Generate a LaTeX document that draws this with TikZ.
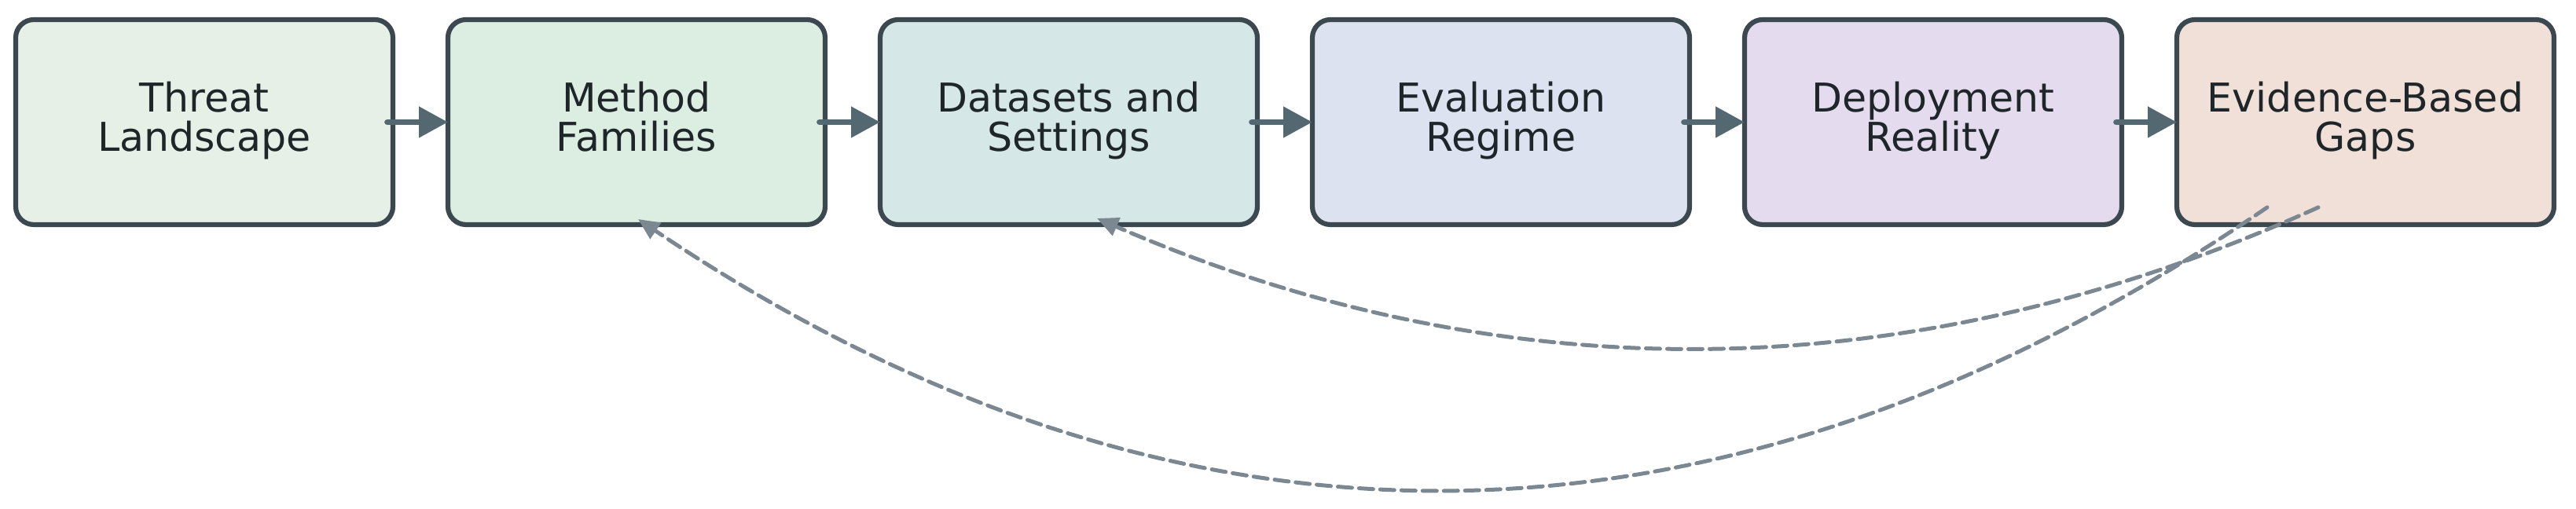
\documentclass[tikz,border=0pt]{standalone}
\usepackage{fontspec}
\setsansfont{DejaVu Sans}
\usetikzlibrary{arrows.meta,positioning}

\definecolor{edgegray}{RGB}{60,72,80}
\definecolor{inkgray}{RGB}{31,38,42}
\definecolor{flowgray}{RGB}{84,104,114}
\definecolor{backgray}{RGB}{123,136,145}
\definecolor{fillthr}{RGB}{230,240,231}
\definecolor{fillmth}{RGB}{220,237,225}
\definecolor{filldat}{RGB}{213,231,231}
\definecolor{fillevl}{RGB}{221,226,240}
\definecolor{filldep}{RGB}{228,220,238}
\definecolor{fillgap}{RGB}{240,224,216}

\begin{document}
\begin{tikzpicture}[
  block/.style={rectangle, draw=edgegray, line width=0.62mm, rounded corners=2.3mm,
    minimum width=4.8cm, minimum height=2.61cm, outer sep=0pt, align=center,
    text=inkgray, font=\sffamily\fontsize{14.4}{14.2}\selectfont,
    execute at end node=\strut},
  flow/.style={-{Triangle[length=3.7mm, width=3.8mm]}, line width=0.77mm, flowgray, line cap=round},
  back/.style={-{Triangle[length=2.7mm, width=2.4mm]}, line width=0.5mm, backgray,
    line cap=round, dash pattern=on 1.8mm off 0.9mm},
  node distance=0.7cm,
]
\useasboundingbox (0,0) rectangle (32.78,-6.48);

% Pipeline
\node[block, fill=fillthr] (thr) at (2.60,-1.555) {Threat\\Landscape};
\node[block, fill=fillmth, right=of thr] (mth) {Method\\Families};
\node[block, fill=filldat, right=of mth] (dat) {Datasets and\\Settings};
\node[block, fill=fillevl, right=of dat] (evl) {Evaluation\\Regime};
\node[block, fill=filldep, right=of evl] (dep) {Deployment\\Reality};
\node[block, fill=fillgap, right=of dep] (gap) {Evidence-Based\\Gaps};

\draw[flow] ([xshift=-0.7mm]thr.east) -- (mth.west);
\draw[flow] ([xshift=-0.7mm]mth.east) -- (dat.west);
\draw[flow] ([xshift=-0.7mm]dat.east) -- (evl.west);
\draw[flow] ([xshift=-0.7mm]evl.east) -- (dep.west);
\draw[flow] ([xshift=-0.7mm]dep.east) -- (gap.west);

% Feedback from gaps
\draw[back] ([shift={(-1.25,0.22)}]gap.south)
  .. controls +(-6.93,-4.737) and +(6.89,-4.637) .. ([shift={(0.02,0.07)}]mth.south);
\draw[back] ([shift={(-0.60,0.22)}]gap.south)
  .. controls +(-5.167,-2.34) and +(5.193,-2.247) .. ([shift={(0.36,0.08)}]dat.south);

\end{tikzpicture}
\end{document}
